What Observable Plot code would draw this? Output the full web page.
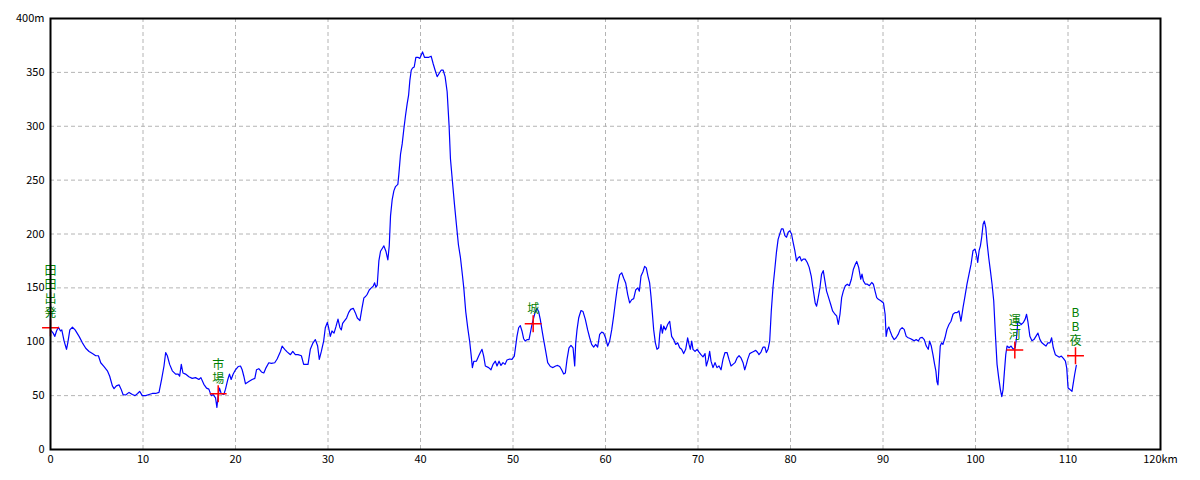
<!DOCTYPE html>
<html><head><meta charset="utf-8">
<script src="https://cdn.jsdelivr.net/npm/d3@7"></script>
<script src="https://cdn.jsdelivr.net/npm/@observablehq/plot@0.6"></script>
<style>body{margin:0;background:#fff}</style>
</head><body><div id="chart"></div>
<script>
const distKm = [0,0.29,0.47,0.65,0.86,1.08,1.22,1.47,1.73,1.87,2.09,2.37,2.66,3.09,3.45,3.81,4.17,4.53,4.89,5.18,5.43,5.79,6.15,6.40,6.69,6.87,7.12,7.41,7.63,7.84,8.13,8.49,8.85,9.14,9.42,9.64,9.93,10.29,10.65,11.01,11.37,11.73,12.01,12.27,12.45,12.63,12.88,13.17,13.53,13.81,13.96,14.14,14.32,14.60,14.96,15.32,15.68,16.04,16.26,16.58,16.87,17.12,17.37,17.59,17.84,17.99,18.13,18.27,18.45,18.74,18.92,19.17,19.35,19.53,19.75,20.0,20.29,20.54,20.72,20.90,21.08,21.44,21.80,22.09,22.27,22.52,22.81,23.06,23.31,23.60,23.88,24.24,24.50,24.86,25.04,25.32,25.58,25.94,26.19,26.47,26.76,27.12,27.37,27.84,28.09,28.38,28.63,28.88,29.06,29.28,29.53,29.71,29.93,30.07,30.25,30.43,30.65,30.79,
30.86,31.08,31.29,31.44,31.58,31.80,32.01,32.23,32.45,32.73,32.95,33.17,33.45,33.67,33.88,34.06,34.24,34.46,34.68,34.89,35.04,35.18,35.32,35.50,35.68,35.90,36.04,36.26,36.47,36.62,36.76,36.94,37.12,37.30,37.55,37.66,37.84,38.02,38.20,38.38,38.56,38.71,38.85,39.0,39.14,39.32,39.50,39.71,39.93,40.22,40.43,40.65,40.90,41.15,41.37,41.58,41.80,42.01,42.23,42.45,42.66,42.88,43.09,43.24,43.45,43.67,43.88,44.10,44.32,44.53,44.68,44.89,45.11,45.32,45.47,45.61,45.76,
46.04,46.29,46.47,46.65,46.83,47.01,47.37,47.62,47.84,48.09,48.27,48.49,48.70,48.92,49.14,49.35,49.64,49.89,50.14,50.29,50.43,50.61,50.79,50.97,51.15,51.33,51.51,51.73,51.87,52.05,52.23,52.41,52.59,52.77,52.95,53.13,53.31,53.50,53.75,54.04,54.32,54.61,54.83,55.05,55.26,55.48,55.66,55.84,56.05,56.27,56.49,56.67,56.78,56.92,57.10,57.35,57.57,57.82,58.07,58.29,58.50,58.72,58.94,59.15,59.37,59.59,59.80,60.0,60.24,60.45,60.67,60.88,61.10,61.32,61.53,61.75,61.97,62.18,62.40,62.61,62.83,63.05,63.26,63.48,63.66,63.84,64.05,64.23,64.41,64.59,64.77,64.92,65.06,65.21,65.39,65.57,65.75,65.86,66.0,66.15,66.29,66.50,66.72,66.94,67.15,67.37,67.59,67.80,68.02,68.23,68.45,68.67,68.88,69.03,69.17,69.32,69.46,69.68,69.90,70.11,70.32,70.54,70.76,70.90,71.11,71.26,71.41,71.62,71.84,72.05,72.27,72.49,72.70,72.92,73.14,73.35,73.57,73.78,74.0,74.22,74.44,74.65,74.87,75.05,75.23,75.37,75.59,75.80,76.02,76.24,76.45,76.59,76.81,77.03,77.24,77.39,77.57,77.75,
77.92,78.12,78.30,78.48,78.66,78.84,79.02,79.20,79.39,79.57,79.75,79.93,80.11,80.29,80.47,80.65,80.83,81.01,81.19,81.37,81.59,81.81,82.02,82.24,82.39,82.53,82.67,82.82,82.96,83.18,83.36,83.54,83.72,83.90,84.12,84.34,84.55,84.81,84.99,85.17,85.35,85.53,85.71,85.93,86.14,86.36,86.58,86.79,87.01,87.16,87.37,87.59,87.73,87.88,88.10,88.31,88.53,88.78,88.96,89.14,89.32,89.50,89.76,90.05,90.23,90.34,90.48,90.63,90.77,90.99,91.21,91.42,91.64,91.86,92.07,92.29,92.51,92.72,92.94,93.16,93.37,93.59,93.81,94.03,94.24,94.46,94.68,94.89,95.04,95.22,95.40,95.58,95.72,95.83,95.94,96.05,96.19,96.34,96.48,96.70,96.91,97.13,97.35,97.57,97.78,98.00,98.21,98.43,98.65,98.87,99.08,99.30,99.52,99.73,99.95,100.10,100.24,100.39,100.53,100.67,100.82,100.96,101.11,101.25,101.43,101.61,101.79,101.97,102.15,102.33,102.51,102.69,102.84,102.98,103.13,103.27,103.41,103.63,103.85,104.07,104.29,104.43,104.58,104.72,104.94,105.16,105.37,105.52,105.66,105.88,106.10,106.31,106.53,106.75,106.97,107.18,107.40,107.62,107.83,108.05,108.23,108.41,108.63,108.85,109.06,109.28,109.50,109.72,109.86,110.01,110.22,110.43,110.58,110.72,110.9];
const elevM = [111,108,105,110,113.5,110,111,100.6,93,99,111,113.5,111,105,99,94,91,89,87,87,80.5,77,73,68,59,56.5,59,60,56,51,50.6,53,51,50,52,54,50,50,51,52,52,53,65,77.5,90,87,79,73,70,70,68,79,71,70,67.6,66,66.7,65,66.7,60.5,57,56,50,51,48,39,51,57,52,51,56,65,70,65,70,74,77,77.5,74,68,61,63,65,66,74,75,72,71,76,80.5,80,80.5,84,91,96,93,90.6,88,91,88,88,87,79,79,93,99,102,96,83.6,91,100.6,113,118,113,105,110,108,112,
114,121,113,111,117,119.6,122,127,130,131,127,122,119.6,131,140.7,142,144,148,150,151.6,154.7,150.6,152.5,175,184,187,189,184,176,189,216.8,232,240,244,246,255.6,274,283.6,297.5,310,321,328.6,342.6,352,354,355,364,364,363,369,364,364,364,365,358,352,346,349,352,352,346,332,300.6,269.6,249,227.7,209,190,178,162,150,128,112.7,100,88,76,81.7,
82,86.7,90,93,86.7,77.5,76,74,79,82,77.5,82,78,80.6,79,83,84,83.6,86.7,96,105,113,115,110,102.8,100.6,102,102,108,116,122,128,131,128,120.7,111,102,93,80.6,77,76,77.5,78,77,74,70,71,83.6,94.4,96.6,94.4,77.5,99,111,122,129,128,120.7,111,103.7,97.5,95,97.5,95,106.8,109,108,103.7,96,100.6,111,123.8,139,153,162,164,159,154.6,143.8,136,139,140,148,150,147,161,165,170,168.5,161,154.6,142,127,111,99,93,94.4,106.8,116,108,114.5,111,116,119,105,102,97.5,99,94.4,93,89,93,103.7,97.5,93,100.6,93,91,93,90.4,88,86,89,77.5,83.6,91,82,76,80.6,76,77.5,74,83.6,90,90,83.6,77.5,79,80.6,85,87,85,80.6,74,79,83.6,89,90,91,92,90,88,90.4,95,95,90,93,100.6,
128,152,167,183,195,200,204.7,204.7,198.5,197,201.6,203,200,192,184.5,175,178,179,175,176.7,176.7,173.6,169,161,152,144,136,133,139,150,162.7,166,156.5,147,141,134.8,128.6,125.5,124,116,125.5,141,147,152,153.4,152,158,167,172,174.5,169,158,162.7,156.5,153.4,153.4,152,155,153.4,147,141,139.4,138,136,125.5,105,111.5,113.7,110,105,102,103.7,106.8,111.5,113,111.5,105,103.7,103,102,101,102,100.6,103.7,104,102,96,93,100.6,96,88,79,72.7,63,60,76,96,99,97.5,103.7,111.5,116,119,125.5,127,127,128.6,119,131.7,142.6,153.4,162.7,172,184.5,186,181,173.6,184.5,189,197,209,212,206,192,178,166,153.4,138,107,79,66.5,55.6,49,55.6,72.7,88,96,94.4,96,93,94.4,103.7,119,117.7,116,117.7,121,125.5,119,105,101,102,105,108,102,99,97.5,96,99,99,103.7,94.4,88,86.7,85.7,86.7,84.5,82,75.8,57,55.6,54,62,69.6,78];

const placeNames = ["田田出発", "市場", "城", "運河", "BB夜"];
const placeKm = [0, 18.13, 52.18, 104.25, 110.81];
const placeElev = [113, 51.7, 116.7, 92.3, 87];

const xTicks = [0, 10, 20, 30, 40, 50, 60, 70, 80, 90, 100, 110, 120];
const yTicks = [0, 50, 100, 150, 200, 250, 300, 350, 400];

const profile = distKm.map((d, i) => ({km: d, m: elevM[i]}));
const places = placeNames.map((n, i) => ({km: placeKm[i], m: placeElev[i], label: [...n].join("\n")}));

const chart = Plot.plot({
  width: 1200,
  height: 480,
  marginLeft: 50,
  marginRight: 40,
  marginTop: 18,
  marginBottom: 31,
  style: {fontFamily: '"MS Gothic","Noto Sans CJK JP",sans-serif', fontSize: "11px", background: "#fff", color: "#000", overflow: "visible"},
  x: {domain: [0, 120], ticks: xTicks, tickSize: 0, tickPadding: 6, label: null,
      tickFormat: d => d === 120 ? "120km" : String(d)},
  y: {domain: [0, 400], ticks: yTicks, tickSize: 0, tickPadding: 6, label: null,
      tickFormat: d => d === 400 ? "400m" : String(d)},
  marks: [
    Plot.ruleX(xTicks.slice(1, -1), {stroke: "#b4b4b4", strokeDasharray: "4,3"}),
    Plot.ruleY(yTicks.slice(1, -1), {stroke: "#b4b4b4", strokeDasharray: "4,3"}),
    Plot.line(profile, {x: "km", y: "m", stroke: "#0000ff", strokeWidth: 1.2}),
    Plot.dot(places, {x: "km", y: "m", symbol: "plus", r: 5.5, stroke: "#ff0000", strokeWidth: 1.5}),
    Plot.text(places, {x: "km", y: "m", text: "label", lineAnchor: "bottom", dy: -11, fill: "#008000", fontSize: 12, lineHeight: 1.15}),
    Plot.frame({stroke: "#000", strokeWidth: 2})
  ]
});
document.getElementById("chart").appendChild(chart);
</script>
</body></html>
